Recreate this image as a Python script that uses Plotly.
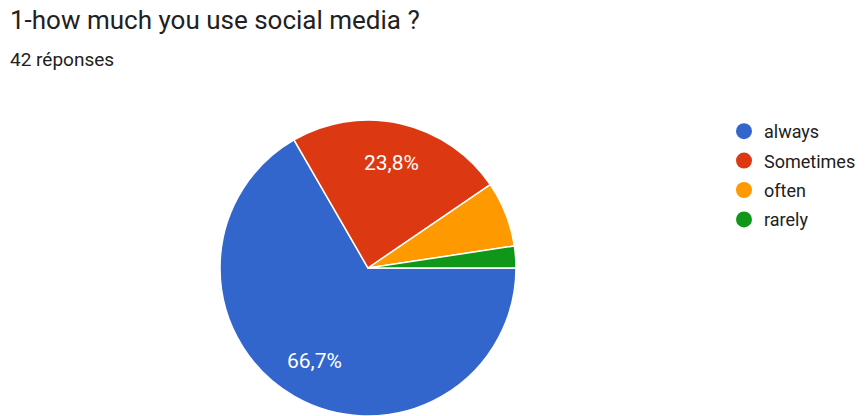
import math
import plotly.graph_objects as go

# Survey answers: "1-how much you use social media ?"
categories = ["always", "Sometimes", "often", "rarely"]
counts = [28, 10, 3, 1]
colors = ["#3366CC", "#DC3912", "#FF9900", "#109618"]
total_responses = sum(counts)

W, H = 867, 416
cx, cy, r = 368, 268, 148  # pie centre and radius in pixels
start_deg = 90             # first slice starts at 3 o'clock, going clockwise

fig = go.Figure()
fig.add_trace(go.Pie(
    labels=categories,
    values=counts,
    sort=False,
    direction="clockwise",
    rotation=start_deg,
    marker=dict(colors=colors, line=dict(color="white", width=1.5)),
    textinfo="none",
    hoverinfo="label+value+percent",
    showlegend=False,
    domain=dict(x=[(cx - r) / W, (cx + r) / W], y=[(H - cy - r) / H, (H - cy + r) / H]),
))

# Percentage labels placed at each slice's mid-angle (only for slices >= 10 %)
min_label_share = 0.1
label_radius = 0.725
annotations = []
cum = 0.0
for c in counts:
    share = c / total_responses
    mid = start_deg + (cum + share / 2) * 360  # compass degrees, clockwise from 12 o'clock
    cum += share
    if share < min_label_share:
        continue
    px = cx + label_radius * r * math.sin(math.radians(mid))
    py = cy - label_radius * r * math.cos(math.radians(mid))
    annotations.append(dict(
        text=f"{share * 100:.1f}%".replace(".", ","),
        x=px / W, y=1 - py / H, xref="paper", yref="paper",
        xanchor="center", yanchor="middle", showarrow=False,
        font=dict(size=21, color="white"),
    ))

# Legend entries drawn with round markers
for name, col in zip(categories, colors):
    fig.add_trace(go.Scatter(
        x=[None], y=[None], mode="markers", name=name, legendgroup=name,
        marker=dict(symbol="circle", size=16, color=col),
        showlegend=True,
    ))

annotations += [
    dict(text="1-how much you use social media ?", x=8 / W, y=1 - 3 / H,
         xref="paper", yref="paper", xanchor="left", yanchor="top",
         showarrow=False, font=dict(size=26, color="#212121")),
    dict(text=f"{total_responses} réponses", x=8 / W, y=1 - 46 / H,
         xref="paper", yref="paper", xanchor="left", yanchor="top",
         showarrow=False, font=dict(size=19, color="#212121")),
]

fig.update_layout(
    width=W, height=H,
    margin=dict(l=0, r=0, t=0, b=0),
    paper_bgcolor="white",
    plot_bgcolor="white",
    font=dict(family="Roboto, Arial, sans-serif", color="#212121"),
    xaxis=dict(visible=False),
    yaxis=dict(visible=False),
    legend=dict(
        x=724 / W, y=1 - 113 / H, xanchor="left", yanchor="top",
        font=dict(size=18, color="#212121"),
        itemsizing="trace",
        tracegroupgap=3,
        bgcolor="rgba(0,0,0,0)",
    ),
    annotations=annotations,
)

fig.write_html("out.html")
